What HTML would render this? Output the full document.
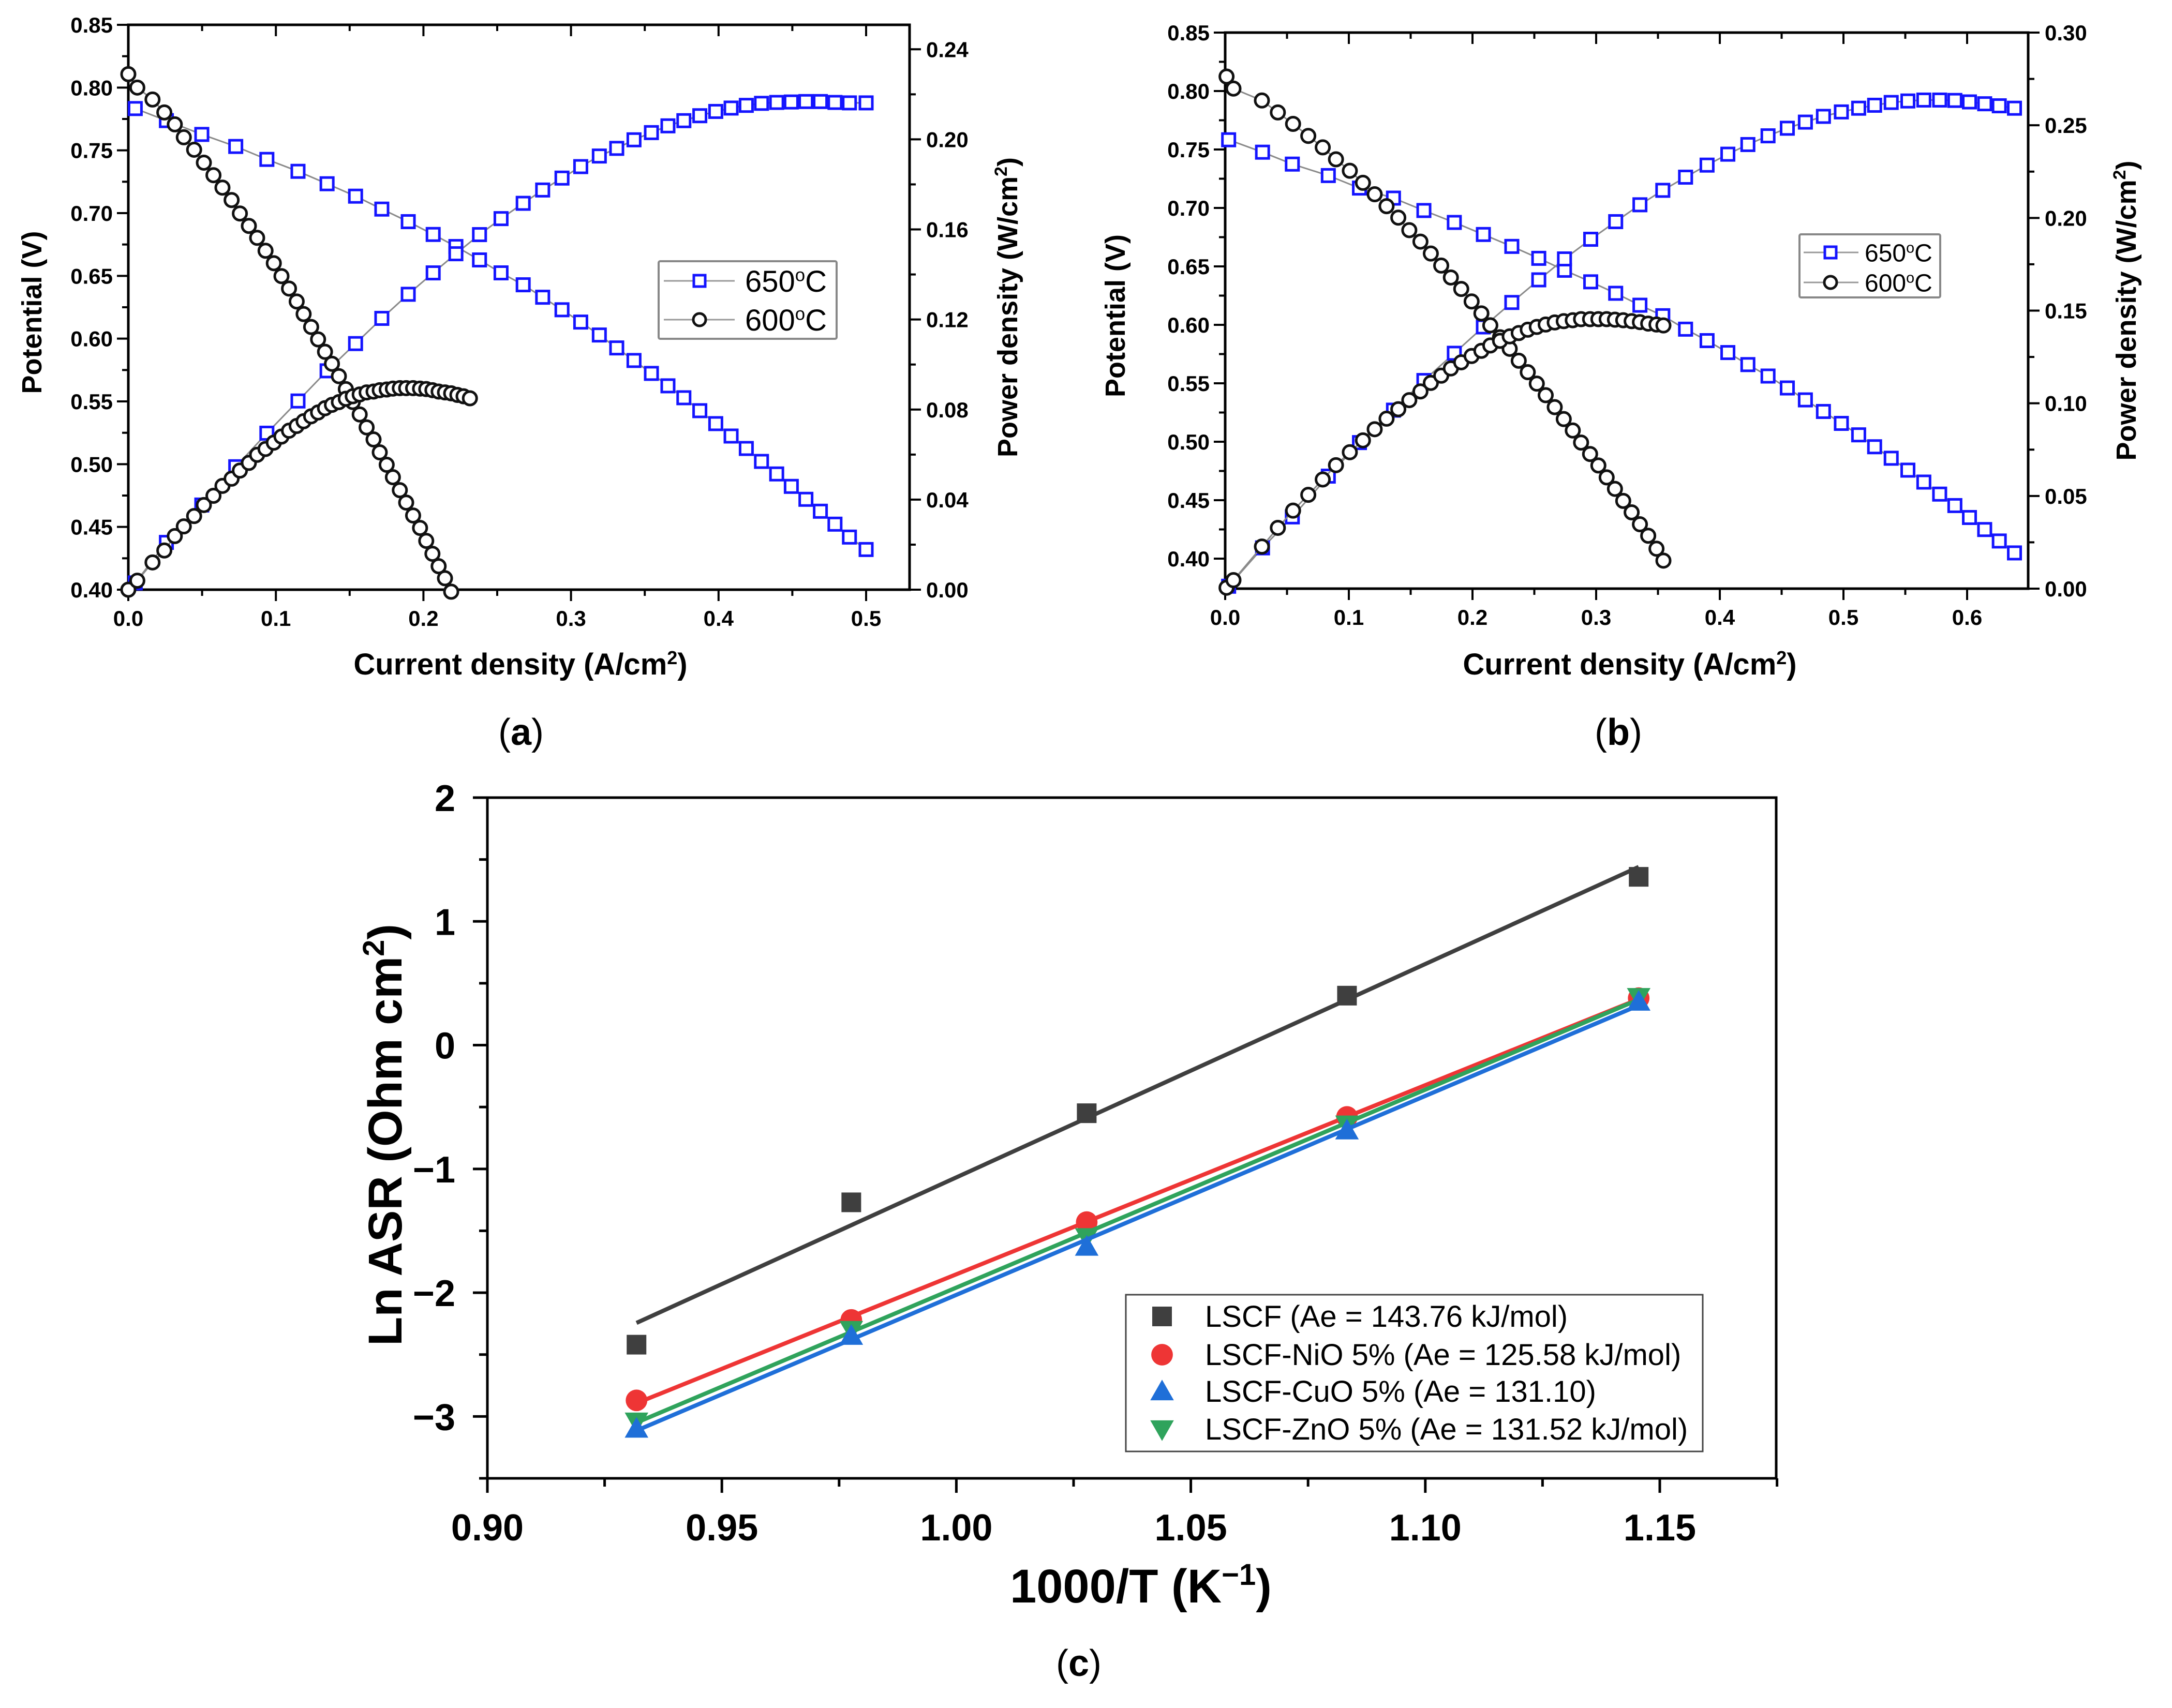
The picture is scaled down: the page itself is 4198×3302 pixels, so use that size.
<!DOCTYPE html>
<html><head><meta charset="utf-8"><style>
html,body{margin:0;padding:0;background:#fff;}
svg{display:block;}
text{font-family:"Liberation Sans",Arial,sans-serif;}
</style></head><body>
<svg id="fig" xmlns="http://www.w3.org/2000/svg" width="4198" height="3302" viewBox="0 0 4198 3302">
<rect x="0" y="0" width="4198" height="3302" fill="#fff"/>
<g id="pa"></g>
<g id="pb"></g>
<g id="pc"></g>
<text x="1007" y="1440" font-family="Liberation Serif, serif" font-size="72" text-anchor="middle">(<tspan font-weight="bold">a</tspan>)</text>
<text x="3128" y="1440" font-family="Liberation Serif, serif" font-size="72" text-anchor="middle">(<tspan font-weight="bold">b</tspan>)</text>
<text x="2085" y="3240" font-family="Liberation Serif, serif" font-size="72" text-anchor="middle">(<tspan font-weight="bold">c</tspan>)</text>
</svg>
<script>
// ---------- Panel (a) data ----------
const aX650=[0.0047,0.0258,0.0498,0.0728,0.0939,0.115,0.1347,0.154,0.1718,0.1897,0.2066,0.222,0.238,0.2526,0.2676,0.2808,0.2939,0.3066,0.3192,0.331,0.3427,0.3545,0.3657,0.3765,0.3873,0.3981,0.4085,0.4188,0.4291,0.4394,0.4493,0.4592,0.469,0.4789,0.4887,0.5];
const aV650=[0.7833,0.7737,0.7627,0.7531,0.7428,0.7333,0.7234,0.7135,0.7032,0.6932,0.683,0.6734,0.6627,0.6524,0.6429,0.633,0.623,0.6132,0.6029,0.5926,0.5826,0.5723,0.5624,0.5529,0.5426,0.5323,0.5224,0.5125,0.5022,0.4922,0.4823,0.472,0.4625,0.4522,0.4419,0.432];
const aP650=[0.003,0.021,0.0376,0.0546,0.0695,0.0838,0.0972,0.1093,0.1205,0.1312,0.1407,0.1492,0.1577,0.1648,0.1716,0.1775,0.1828,0.1879,0.1926,0.196,0.1998,0.203,0.206,0.2083,0.2105,0.2124,0.2139,0.2151,0.216,0.2164,0.2166,0.2168,0.2168,0.2164,0.2162,0.2162];
const aX600=[0,0.0061,0.0164,0.0244,0.0315,0.0376,0.0446,0.0512,0.0577,0.0638,0.07,0.0756,0.0817,0.0873,0.093,0.0986,0.1038,0.1089,0.1141,0.1188,0.1239,0.1286,0.1333,0.138,0.1427,0.1474,0.1521,0.1568,0.1615,0.1662,0.1704,0.1751,0.1793,0.184,0.1883,0.193,0.1977,0.2019,0.2061,0.2103,0.2146,0.2188];
const aV600=[0.8107,0.8,0.7905,0.7802,0.7707,0.7604,0.7505,0.7402,0.7302,0.7203,0.7104,0.6997,0.6898,0.6803,0.67,0.6601,0.6498,0.6399,0.6296,0.6196,0.6093,0.5994,0.5895,0.58,0.5701,0.5598,0.5495,0.5396,0.5293,0.5197,0.5094,0.4995,0.4896,0.4793,0.4694,0.4591,0.4492,0.4389,0.4286,0.4187,0.4091,0.3984];
const aXP600=[0,0.0061,0.0164,0.0244,0.0315,0.0376,0.0446,0.0512,0.0577,0.0638,0.07,0.0756,0.0817,0.0873,0.093,0.0986,0.1038,0.1089,0.1141,0.1188,0.1239,0.1286,0.1333,0.138,0.1427,0.1474,0.1521,0.1568,0.1615,0.1662,0.1704,0.1751,0.1793,0.184,0.1883,0.193,0.1977,0.2019,0.2061,0.2103,0.2146,0.2188,0.223,0.2272,0.2315];
const aP600=[0,0.004,0.0121,0.0174,0.0238,0.0281,0.0327,0.0376,0.0417,0.0461,0.0493,0.0529,0.0563,0.0599,0.0625,0.0653,0.068,0.0706,0.0727,0.0748,0.077,0.0787,0.0806,0.0821,0.0833,0.0848,0.0859,0.0867,0.0876,0.088,0.0886,0.0889,0.0893,0.0895,0.0895,0.0895,0.0893,0.0891,0.0886,0.088,0.0876,0.0872,0.0865,0.0859,0.085];
const aXTicks=["0.0","0.1","0.2","0.3","0.4","0.5"];
const aYLTicks=["0.40","0.45","0.50","0.55","0.60","0.65","0.70","0.75","0.80","0.85"];
const aYRTicks=["0.00","0.04","0.08","0.12","0.16","0.20","0.24"];
// ---------- Panel (b) data ----------
const bX650=[0.0028,0.0302,0.0543,0.0834,0.1086,0.1361,0.1607,0.1853,0.2088,0.2318,0.2536,0.2744,0.2956,0.3158,0.3354,0.3539,0.3723,0.3897,0.4065,0.4227,0.439,0.4546,0.4692,0.4838,0.4983,0.5123,0.5252,0.5386,0.5521,0.565,0.5778,0.5901,0.6019,0.6142,0.626,0.6383];
const bV650=[0.7583,0.7477,0.7375,0.7277,0.717,0.7084,0.6978,0.6876,0.6773,0.6671,0.6569,0.6467,0.6368,0.627,0.6168,0.6078,0.5963,0.5865,0.5763,0.566,0.5562,0.546,0.5358,0.5259,0.5157,0.5059,0.4957,0.4859,0.4757,0.4655,0.4552,0.4454,0.4352,0.4249,0.4151,0.4049];
const bP650=[0.0013,0.022,0.0387,0.0607,0.0788,0.0963,0.1123,0.127,0.1412,0.1544,0.1666,0.1779,0.1885,0.198,0.2071,0.2149,0.222,0.2285,0.2344,0.2396,0.2443,0.2484,0.2517,0.2548,0.2572,0.2592,0.2608,0.2623,0.2631,0.2636,0.2636,0.2634,0.2626,0.2616,0.2605,0.2592];
const bX600=[0.0011,0.0067,0.0297,0.0426,0.0549,0.0672,0.0789,0.0896,0.1008,0.1114,0.1209,0.1305,0.14,0.1489,0.1579,0.1663,0.1747,0.1825,0.1909,0.1993,0.2072,0.2144,0.2223,0.2301,0.2374,0.2447,0.252,0.2592,0.2665,0.2738,0.2811,0.2878,0.2951,0.3018,0.3085,0.3152,0.3219,0.3287,0.3354,0.3421,0.3488,0.3544];
const bV600=[0.8124,0.8021,0.7919,0.7817,0.7719,0.7616,0.7518,0.7416,0.7318,0.7215,0.7117,0.7015,0.6917,0.681,0.6712,0.661,0.6507,0.6405,0.6307,0.62,0.6098,0.5996,0.5894,0.5795,0.5693,0.5595,0.5497,0.5398,0.5296,0.5194,0.5096,0.4993,0.4895,0.4797,0.4695,0.4597,0.4494,0.4396,0.4294,0.4196,0.4085,0.3983];
const bP600=[0.0005,0.0046,0.0227,0.0328,0.0421,0.0506,0.0589,0.0666,0.0736,0.08,0.086,0.0917,0.0968,0.1017,0.1064,0.111,0.1149,0.1188,0.1221,0.1255,0.1283,0.1312,0.1337,0.1361,0.1379,0.1397,0.1412,0.1425,0.1436,0.1443,0.1448,0.1454,0.1454,0.1454,0.1454,0.1451,0.1448,0.1443,0.1438,0.143,0.1425,0.142];
const bXTicks=["0.0","0.1","0.2","0.3","0.4","0.5","0.6"];
const bYLTicks=["0.40","0.45","0.50","0.55","0.60","0.65","0.70","0.75","0.80","0.85"];
const bYRTicks=["0.00","0.05","0.10","0.15","0.20","0.25","0.30"];
// ---------- Panel (c) data ----------
const cX=[0.9318,0.9776,1.0278,1.0833,1.1455];
const cLSCF=[-2.42,-1.27,-0.55,0.40,1.36];
const cNiO=[-2.87,-2.22,-1.43,-0.58,0.38];
const cCuO=[-3.10,-2.35,-1.63,-0.69,0.35];
const cZnO=[-3.04,-2.30,-1.55,-0.64,0.39];
const cXTicks=["0.90","0.95","1.00","1.05","1.10","1.15"];
const cYTicks=["−3","−2","−1","0","1","2"];
const cLegend=["LSCF (Ae = 143.76 kJ/mol)","LSCF-NiO 5% (Ae = 125.58 kJ/mol)","LSCF-CuO 5% (Ae = 131.10)","LSCF-ZnO 5% (Ae = 131.52 kJ/mol)"];

const NS="http://www.w3.org/2000/svg";
function mk(parent,tag,attrs){const e=document.createElementNS(NS,tag);for(const k in attrs)e.setAttribute(k,attrs[k]);parent.appendChild(e);return e;}

function fuelPanel(g,cfg){
  const sx=v=>cfg.L+(v-cfg.xmin)/(cfg.xmax-cfg.xmin)*(cfg.R-cfg.L);
  const syl=v=>cfg.B-(v-cfg.ylmin)/(cfg.ylmax-cfg.ylmin)*(cfg.B-cfg.T);
  const syr=v=>cfg.B-(v-cfg.yrmin)/(cfg.yrmax-cfg.yrmin)*(cfg.B-cfg.T);
  const frame=mk(g,'rect',{x:cfg.L,y:cfg.T,width:cfg.R-cfg.L,height:cfg.B-cfg.T,fill:'none',stroke:'#000','stroke-width':5});
  
  
  const ax=mk(g,'g',{});
  
  
  for(let v=0;v<=cfg.xmax+1e-9;v+=0.05){
    const major=Math.abs(v*10-Math.round(v*10))<1e-6;const len=major?22:12;const x=sx(v);
    mk(ax,'line',{x1:x,x2:x,y1:cfg.B,y2:cfg.B+len,stroke:'#000','stroke-width':4});
    mk(ax,'line',{x1:x,x2:x,y1:cfg.T,y2:cfg.T+len,stroke:'#000','stroke-width':4});
  }
  cfg.xt.forEach((t,i)=>{const el=mk(ax,'text',{x:sx(i*0.1),y:cfg.B+70,'font-size':42,'font-weight':'bold','text-anchor':'middle'});el.textContent=t;});
  for(let v=cfg.ylmin0;v<=cfg.ylmax+1e-9;v+=0.025){
    const major=Math.abs(v*20-Math.round(v*20))<1e-6;const y=syl(v);
    mk(ax,'line',{x1:cfg.L-(major?22:12),x2:cfg.L,y1:y,y2:y,stroke:'#000','stroke-width':4});
  }
  cfg.ylt.forEach((t,i)=>{const el=mk(ax,'text',{x:cfg.L-30,y:syl(0.40+i*0.05)+15,'font-size':42,'font-weight':'bold','text-anchor':'end'});el.textContent=t;});
  for(let v=0;v<=cfg.yrmax+1e-9;v+=cfg.yrstep/2){
    const major=Math.abs(v/cfg.yrstep-Math.round(v/cfg.yrstep))<1e-6;const y=syr(v);
    mk(ax,'line',{x1:cfg.R,x2:cfg.R+(major?22:12),y1:y,y2:y,stroke:'#000','stroke-width':4});
  }
  cfg.yrt.forEach((t,i)=>{const el=mk(ax,'text',{x:cfg.R+32,y:syr(i*cfg.yrstep)+15,'font-size':42,'font-weight':'bold','text-anchor':'start'});el.textContent=t;});
  const yt=mk(g,'text',{x:0,y:0,'font-size':54,'font-weight':'bold','text-anchor':'middle',transform:`translate(${cfg.ylx},${(cfg.T+cfg.B)/2+10}) rotate(-90)`});
  yt.textContent='Potential (V)';
  
  
  const rt=mk(g,'text',{x:0,y:0,'font-size':54,'font-weight':'bold','text-anchor':'middle',transform:`translate(${cfg.yrx},${(cfg.T+cfg.B)/2}) rotate(-90)`});
  rt.innerHTML='Power density (W/cm<tspan dy="-20" font-size="34">2</tspan><tspan dy="20">)</tspan>';
  
  
  const xt=mk(g,'text',{x:cfg.xtx,y:1304,'font-size':58,'font-weight':'bold','text-anchor':'middle'});
  xt.innerHTML='Current density (A/cm<tspan dy="-20" font-size="36">2</tspan><tspan dy="20">)</tspan>';
  
  
  function series(name,xs,ys,sy,type,color){
    const sg=mk(g,'g',{});
    
    
    mk(sg,'polyline',{points:xs.slice(0,ys.length).map((x,i)=>sx(x)+','+sy(ys[i])).join(' '),fill:'none',stroke:'#8a8a8a','stroke-width':3});
    ys.forEach((y,i)=>{
      const px=sx(xs[i]),py=sy(y);let m;
      if(type==='sq'){m=mk(sg,'rect',{x:px-12,y:py-12,width:24,height:24,fill:'#fff',stroke:color,'stroke-width':5});}
      else{m=mk(sg,'circle',{cx:px,cy:py,r:13,fill:'#fff',stroke:color,'stroke-width':5});}
      
      
    });
  }
  series('potential-650c',cfg.x650,cfg.v650,syl,'sq','#1414ff');
  series('power-650c',cfg.x650,cfg.p650,syr,'sq','#1414ff');
  series('potential-600c',cfg.x600,cfg.v600,syl,'ci','#111');
  series('power-600c',cfg.xp600,cfg.p600,syr,'ci','#111');
  const lg=mk(g,'g',{});
  
  
  const l=cfg.leg;
  mk(lg,'rect',{x:l.x,y:l.y,width:l.w,height:l.h,fill:'#fff',stroke:'#888','stroke-width':4,rx:3});
  [['650ºC','sq','#1414ff',l.y1],['600ºC','ci','#111',l.y2]].forEach(([lab,t,c,yy])=>{
    const e=mk(lg,'g',{});
    
    
    mk(e,'line',{x1:l.lx1,x2:l.lx2,y1:yy,y2:yy,stroke:'#999','stroke-width':3});
    if(t==='sq')mk(e,'rect',{x:l.mx-11,y:yy-11,width:22,height:22,fill:'#fff',stroke:c,'stroke-width':5});
    else mk(e,'circle',{cx:l.mx,cy:yy,r:12,fill:'#fff',stroke:c,'stroke-width':5});
    const tx=mk(e,'text',{x:l.tx,y:yy+l.fs*0.36,'font-size':l.fs});
    tx.innerHTML=lab.slice(0,3)+'<tspan dy="'+(-l.fs*0.35)+'" font-size="'+(l.fs*0.6)+'">o</tspan><tspan dy="'+(l.fs*0.35)+'">C</tspan>';
  });
}

fuelPanel(document.getElementById('pa'),{L:248,R:1758,T:48,B:1140,xmin:0,xmax:(1758-248)/2852,ylmin:0.40,ylmin0:0.40,ylmax:0.85,yrmin:0,yrmax:0.24*(1140-48)/(1140-95.3),yrstep:0.04,
  xt:aXTicks,ylt:aYLTicks,yrt:aYRTicks,ylx:80,yrx:1966,xtx:1006,
  x650:aX650,v650:aV650,p650:aP650,x600:aX600,v600:aV600,xp600:aXP600,p600:aP600,
  leg:{x:1273,y:505,w:344,h:150,y1:543,y2:618,lx1:1283,lx2:1420,mx:1352,tx:1440,fs:58}});
fuelPanel(document.getElementById('pb'),{L:2368,R:3920,T:63,B:1138,xmin:0,xmax:(3920-2368)/2390,ylmin:0.40-(58/1017)*0.45,ylmin0:0.40,ylmax:0.85,yrmin:0,yrmax:0.30,yrstep:0.05,
  xt:bXTicks,ylt:bYLTicks,yrt:bYRTicks,ylx:2174,yrx:4128,xtx:3150,
  x650:bX650,v650:bV650,p650:bP650,x600:bX600,v600:bV600,xp600:bX600,p600:bP600,
  leg:{x:3478,y:453,w:272,h:122,y1:488,y2:546,lx1:3486,lx2:3592,mx:3538,tx:3604,fs:48}});

(function(){
  const g=document.getElementById('pc');
  const L=942,R=3433,T=1542,B=2858,xmin=0.9,xmax=0.9+(R-L)/(453.2/0.05),ymin=-3.5,ymax=2;
  const sx=v=>L+(v-xmin)/(xmax-xmin)*(R-L);
  const sy=v=>B-(v-ymin)/(ymax-ymin)*(B-T);
  const fr=mk(g,'rect',{x:L,y:T,width:R-L,height:B-T,fill:'none',stroke:'#000','stroke-width':5});
  
  
  const ax=mk(g,'g',{});
  
  
  for(let i=0;i<=11;i++){const v=0.9+i*0.025;const x=sx(v);const maj=i%2===0;
    mk(ax,'line',{x1:x,x2:x,y1:B,y2:B+(maj?28:16),stroke:'#000','stroke-width':5});}
  cXTicks.forEach((t,i)=>{const el=mk(ax,'text',{x:sx(0.9+i*0.05),y:2978,'font-size':72,'font-weight':'bold','text-anchor':'middle'});el.textContent=t;});
  for(let i=0;i<=11;i++){const v=-3.5+i*0.5;const y=sy(v);const maj=i%2===1;
    mk(ax,'line',{x1:L-(maj?28:16),x2:L,y1:y,y2:y,stroke:'#000','stroke-width':5});}
  cYTicks.forEach((t,i)=>{const el=mk(ax,'text',{x:880,y:sy(-3+i)+26,'font-size':72,'font-weight':'bold','text-anchor':'end'});el.textContent=t;});
  const xt=mk(g,'text',{x:2205,y:3098,'font-size':92,'font-weight':'bold','text-anchor':'middle'});
  xt.innerHTML='1000/T (K<tspan dy="-34" font-size="58">−1</tspan><tspan dy="34">)</tspan>';
  
  
  const yt=mk(g,'text',{x:0,y:0,'font-size':92,'font-weight':'bold','text-anchor':'middle',transform:'translate(776,2194) rotate(-90)'});
  yt.innerHTML='Ln ASR (Ohm cm<tspan dy="-34" font-size="58">2</tspan><tspan dy="34">)</tspan>';
  
  
  function marker(p,type,x,y,c,s){
    if(type==='sq')return mk(p,'rect',{x:x-s*0.5,y:y-s*0.5,width:s,height:s,fill:c});
    if(type==='ci')return mk(p,'ellipse',{cx:x,cy:y,rx:s*0.55,ry:s*0.55,fill:c});
    if(type==='up')return mk(p,'polygon',{points:`${x},${y-s*0.6} ${x-s*0.6},${y+s*0.45} ${x+s*0.6},${y+s*0.45}`,fill:c});
    return mk(p,'polygon',{points:`${x},${y+s*0.6} ${x-s*0.6},${y-s*0.45} ${x+s*0.6},${y-s*0.45}`,fill:c});
  }
  const sets=[['lscf',cLSCF,'sq','#3f3f3f'],['lscf-nio',cNiO,'ci','#ee3535'],['lscf-zno',cZnO,'dn','#2fa35c'],['lscf-cuo',cCuO,'up','#1f6fd8']];
  const order=[0,1,3,2];
  sets.forEach(([name,ys,type,c])=>{
    const sg=mk(g,'g',{});
    
    
    const n=cX.length;let mx=0,my=0;cX.forEach((x,i)=>{mx+=x;my+=ys[i];});mx/=n;my/=n;
    let sxy=0,sxx=0;cX.forEach((x,i)=>{sxy+=(x-mx)*(ys[i]-my);sxx+=(x-mx)*(x-mx);});
    const k=sxy/sxx,b=my-k*mx;const x0=cX[0],x1=cX[n-1];
    const fl=mk(sg,'line',{x1:sx(x0),y1:sy(k*x0+b),x2:sx(x1),y2:sy(k*x1+b),stroke:c,'stroke-width':8});
    
    
    ys.forEach((y,i)=>{const m=marker(sg,type,sx(cX[i]),sy(y),c,38);
      
      });
  });
  const lg=mk(g,'g',{});
  
  
  mk(lg,'rect',{x:2176,y:2503,width:1115,height:303,fill:'#fff',stroke:'#444','stroke-width':3});
  const ly=[2545,2619,2690,2763];
  order.forEach((si,j)=>{
    const [name,ys,type,c]=sets[si];
    const e=mk(lg,'g',{});
    
    
    marker(e,type,2246,ly[j],c,38);
    const t=mk(e,'text',{x:2329,y:ly[j]+20,'font-size':58});
    t.textContent=cLegend[j];
  });
})();
</script>
</body></html>
